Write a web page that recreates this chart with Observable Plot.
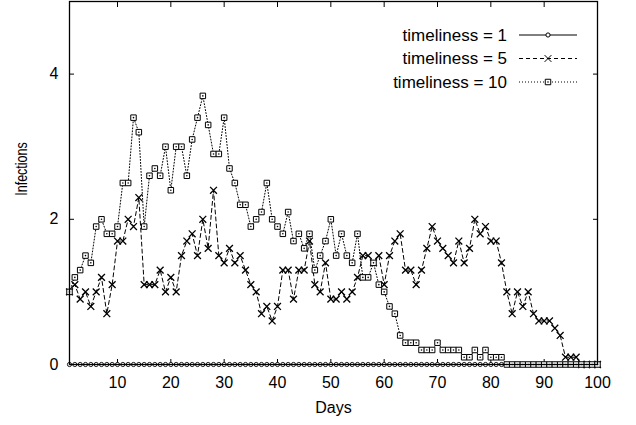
<!DOCTYPE html>
<html><head><meta charset="utf-8">
<script src="https://cdn.jsdelivr.net/npm/d3@7"></script>
<script src="https://cdn.jsdelivr.net/npm/@observablehq/plot@0.6"></script>
<style>html,body{margin:0;padding:0;background:#fff} svg{display:block}</style>
</head><body><div id="chart"></div>
<script>
const days = d3.range(1, 101);
const seriesNames = ["timeliness = 1", "timeliness = 5", "timeliness = 10"];
const t1 = [
  0,0,0,0,0,0,0,0,0,0, 0,0,0,0,0,0,0,0,0,0,
  0,0,0,0,0,0,0,0,0,0, 0,0,0,0,0,0,0,0,0,0,
  0,0,0,0,0,0,0,0,0,0, 0,0,0,0,0,0,0,0,0,0,
  0,0,0,0,0,0,0,0,0,0, 0,0,0,0,0,0,0,0,0,0,
  0,0,0,0,0,0,0,0,0,0, 0,0,0,0,0,0,0,0,0,0
];
const t5 = [
  1.0,1.1,0.9,1.0,0.8,1.0,1.2,0.7,1.1,1.7,
  1.7,2.0,1.9,2.3,1.1,1.1,1.1,1.3,1.0,1.2,
  1.0,1.5,1.7,1.8,1.5,2.0,1.6,2.4,1.5,1.4,
  1.6,1.4,1.5,1.3,1.1,1.0,0.7,0.8,0.6,0.8,
  1.3,1.3,0.9,1.3,1.3,1.7,1.1,1.0,1.4,0.9,
  0.9,1.0,0.9,1.0,1.2,1.5,1.5,1.4,1.5,1.1,
  1.5,1.7,1.8,1.3,1.3,1.1,1.3,1.6,1.9,1.7,
  1.6,1.5,1.4,1.7,1.4,1.6,2.0,1.8,1.9,1.7,
  1.7,1.4,1.0,0.7,1.0,0.8,1.0,0.7,0.6,0.6,
  0.6,0.5,0.4,0.1,0.1,0.1,0,0,0,0
];
const t10 = [
  1.0,1.2,1.3,1.5,1.4,1.9,2.0,1.8,1.8,1.9,
  2.5,2.5,3.4,3.2,1.9,2.6,2.7,2.6,3.0,2.4,
  3.0,3.0,2.6,3.1,3.4,3.7,3.3,2.9,2.9,3.4,
  2.7,2.5,2.2,2.2,1.9,2.0,2.1,2.5,2.0,1.9,
  1.8,2.1,1.7,1.8,1.6,1.8,1.3,1.5,1.7,2.0,
  1.5,1.8,1.5,1.4,1.8,1.2,1.2,1.4,1.1,1.0,
  0.8,0.7,0.4,0.3,0.3,0.3,0.2,0.2,0.2,0.3,
  0.2,0.2,0.2,0.2,0.1,0.1,0.2,0.1,0.2,0.1,
  0.1,0.1,0,0,0,0,0,0,0,0,
  0,0,0,0,0,0,0,0,0,0
];
const xTicks = [10,20,30,40,50,60,70,80,90,100];
const yTicks = [0,2,4];
const xLabel = "Days";
const yLabel = "Infections";

const toRows = (arr, name) => days.map((d, i) => ({day: d, value: arr[i], series: name}));
const r1 = toRows(t1, seriesNames[0]);
const r5 = toRows(t5, seriesNames[1]);
const r10 = toRows(t10, seriesNames[2]);

const FONT = "'Liberation Sans', Arial, Helvetica, sans-serif";
const TS = 5;

const chart = Plot.plot({
  width: 636,
  height: 425,
  marginLeft: 69,
  marginRight: 39,
  marginTop: 1,
  marginBottom: 61,
  style: {fontFamily: FONT, fontSize: "16px", background: "#fff", color: "#000"},
  x: {domain: [1, 100], label: null},
  y: {domain: [0, 5], label: null},
  marks: [
    Plot.axisX(xTicks, {anchor: "bottom", tickSize: -TS, tickPadding: 17, fontSize: 16, label: null, tickFormat: d3.format("d")}),
    Plot.axisX(xTicks, {anchor: "top", tickSize: -TS, tickFormat: () => "", label: null}),
    Plot.axisY(yTicks, {anchor: "left", tickSize: -TS, tickPadding: 16, fontSize: 16, label: null, tickFormat: d3.format("d")}),
    Plot.axisY(yTicks, {anchor: "right", tickSize: -TS, tickFormat: () => "", label: null}),
    Plot.line(r1, {x: "day", y: "value", stroke: "black", strokeWidth: 1}),
    Plot.dot(r1, {x: "day", y: "value", symbol: "circle", r: 2.1, stroke: "black", strokeWidth: 0.9, fill: "white"}),
    Plot.line(r5, {x: "day", y: "value", stroke: "black", strokeWidth: 1, strokeDasharray: "4,3"}),
    Plot.dot(r5, {x: "day", y: "value", symbol: "times", r: 3.2, stroke: "black", strokeWidth: 1.3}),
    Plot.line(r10, {x: "day", y: "value", stroke: "black", strokeWidth: 1, strokeDasharray: "1,2"}),
    Plot.dot(r10, {x: "day", y: "value", symbol: "square", r: 3.1, stroke: "black", strokeWidth: 1, fill: "white"}),
    Plot.dot(r10, {x: "day", y: "value", r: 0.8, fill: "black"}),
    Plot.frame({stroke: "black", strokeWidth: 1.3}),
    Plot.text([xLabel], {frameAnchor: "bottom", text: d => d, dy: 48, fontSize: 16})
  ]
});
document.getElementById("chart").appendChild(chart);

const svg = d3.select(chart.tagName.toLowerCase() === "svg" ? chart : chart.querySelector("svg"));

// y-axis title (horizontally condensed, as in the reference)
svg.append("text")
  .attr("transform", "translate(27,169) rotate(-90) scale(0.78,1)")
  .attr("text-anchor", "middle")
  .attr("font-family", FONT)
  .attr("font-size", 16)
  .text(yLabel);

// legend (inside the plot, top right)
const legendRows = [
  {name: seriesNames[0], sym: d3.symbolCircle, r: 2.1, dash: null, fill: "white"},
  {name: seriesNames[1], sym: d3.symbolTimes, r: 3.2, dash: "4,3", fill: "none"},
  {name: seriesNames[2], sym: d3.symbolSquare, r: 3.1, dash: "1,2", fill: "white"}
];
const lg = svg.append("g").attr("font-family", FONT).attr("font-size", 17);
const lx1 = 519, lx2 = 577, ltx = 507, lys = [35, 58.5, 82];
legendRows.forEach((row, i) => {
  const y = lys[i];
  lg.append("text").attr("x", ltx).attr("y", y).attr("dy", "0.35em").attr("text-anchor", "end").text(row.name);
  lg.append("line").attr("x1", lx1).attr("x2", lx2).attr("y1", y).attr("y2", y)
    .attr("stroke", "black").attr("stroke-width", 1).attr("stroke-dasharray", row.dash);
  lg.append("path").attr("transform", `translate(${(lx1 + lx2) / 2},${y})`)
    .attr("d", d3.symbol(row.sym, Math.PI * row.r * row.r)())
    .attr("stroke", "black").attr("stroke-width", 1).attr("fill", row.fill);
  if (i === 2) lg.append("circle").attr("cx", (lx1 + lx2) / 2).attr("cy", y).attr("r", 0.8).attr("fill", "black");
});
</script>
</body></html>
